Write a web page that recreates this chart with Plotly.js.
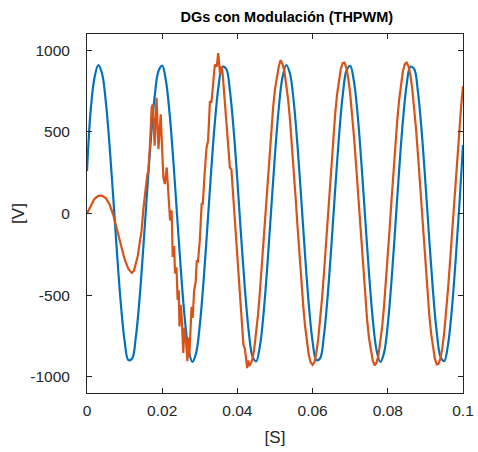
<!DOCTYPE html>
<html>
<head>
<meta charset="utf-8">
<script src="https://cdn.plot.ly/plotly-3.0.1.min.js"></script>
<style>html,body{margin:0;padding:0;background:#fff;}#chart{width:478px;height:452px;}</style>
</head>
<body>
<div id="chart"></div>
<script>
// Series 1 (blue) — time [s] and voltage [V]
const tBlue = [0,0.001,0.002,0.003,0.004,0.005,0.006,0.007,0.008,0.009,
0.010,0.011,0.012,0.013,0.014,0.015,0.016,0.017,0.018,0.019,
0.020,0.021,0.022,0.023,0.024,0.025,0.026,0.027,0.028,0.029,
0.030,0.031,0.032,0.033,0.034,0.035,0.036,0.037,0.038,0.039,
0.040,0.041,0.042,0.043,0.044,0.045,0.046,0.047,0.048,0.049,
0.050,0.051,0.052,0.053,0.054,0.055,0.056,0.057,0.058,0.059,
0.060,0.061,0.062,0.063,0.064,0.065,0.066,0.067,0.068,0.069,
0.070,0.071,0.072,0.073,0.074,0.075,0.076,0.077,0.078,0.079,
0.080,0.081,0.082,0.083,0.084,0.085,0.086,0.087,0.088,0.089,
0.090,0.091,0.092,0.093,0.094,0.095,0.096,0.097,0.098,0.099,0.100];
const vBlue = [260,639,833,909,858,686,418,91,-249,-554,
-781,-898,-889,-755,-515,-202,139,460,717,873,
906,812,604,311,-26,-359,-642,-834,-909,-857,
-684,-414,-87,253,557,783,899,888,753,512,
199,-143,-464,-719,-874,-906,-810,-601,-307,30,
363,645,836,910,855,681,411,83,-257,-560,
-785,-899,-887,-750,-508,-195,146,467,722,875,
905,809,599,303,-34,-366,-647,-837,-910,-854,
-679,-408,-79,260,563,787,900,886,749,505,
191,-150,-470,-724,-876,-905,-807,-595,-300,38,420];

// Series 2 (orange) — time [s] and voltage [V]
const tOrange = [0,0.001,0.002,0.003,0.004,0.005,0.006,0.007,0.008,0.009,
0.010,0.011,0.0119,0.0125,0.013,0.0135,0.014,0.0145,0.015,0.0155,
0.016,0.0163,0.0167,0.0172,0.0175,0.018,0.0185,0.019,0.0196,0.0203,
0.0207,0.0212,0.0218,0.0221,0.0225,0.0228,0.0232,0.0234,0.0238,0.0241,
0.0244,0.0246,0.0249,0.0252,0.0256,0.0259,0.0263,0.0267,0.0270,0.0272,
0.0274,0.0278,0.0281,0.0285,0.0289,0.0292,0.0295,0.0300,0.0305,0.0308,
0.0313,0.0318,0.0322,0.0327,0.0331,0.0340,0.0345,0.0349,0.0354,0.0358,
0.0361,0.0372,0.0380,0.0384,0.0394,0.0398,0.0407,0.0416,0.0420,0.0426,
0.0429,0.0432,0.0438,
0.0440,0.0445,0.0450,0.0455,0.0460,0.0465,0.0470,0.0475,0.0480,0.0485,
0.0490,0.0495,0.0500,0.0505,0.0510,0.0515,0.0520,0.0525,0.0530,0.0535,
0.0540,0.0545,0.0550,0.0555,0.0560,0.0565,0.0570,0.0575,0.0580,0.0585,
0.0590,0.0595,0.0600,0.0605,0.0610,0.0615,0.0620,0.0625,0.0630,0.0635,
0.0640,0.0645,0.0650,0.0655,0.0660,0.0665,0.0670,0.0675,0.0680,0.0685,
0.0690,0.0695,0.0700,0.0705,0.0710,0.0715,0.0720,0.0725,0.0730,0.0735,
0.0740,0.0745,0.0750,0.0755,0.0760,0.0765,0.0770,0.0775,0.0780,0.0785,
0.0790,0.0795,0.0800,0.0805,0.0810,0.0815,0.0820,0.0825,0.0830,0.0835,
0.0840,0.0845,0.0850,0.0855,0.0860,0.0865,0.0870,0.0875,0.0880,0.0885,
0.0890,0.0895,0.0900,0.0905,0.0910,0.0915,0.0920,0.0925,0.0930,0.0935,
0.0940,0.0945,0.0950,0.0955,0.0960,0.0965,0.0970,0.0975,0.0980,0.0985,
0.0990,0.0995,0.1000];
const vOrange = [0,50,90,108,110,95,55,-10,-95,-190,
-280,-340,-364,-350,-310,-260,-180,-110,30,150,
230,262,400,648,669,415,709,394,608,221,
180,282,60,-43,20,-266,-200,-368,-330,-530,
-470,-693,-560,-640,-855,-700,-780,-905,-760,-880,
-780,-571,-640,-470,-420,-287,-300,-165,59,60,
250,404,445,689,680,913,900,983,852,900,
850,506,282,270,-83,-225,-530,-805,-830,-947,
-900,-935,-907,
-890,-827,-735,-617,-476,-320,-151,23,196,362,
515,650,762,847,901,940,915,872,799,697,
571,425,263,92,-82,-253,-415,-563,-691,-794,
-869,-913,-928,-910,-851,-767,-657,-523,-371,-206,
-33,141,310,468,609,729,823,887,921,925,
889,826,733,614,473,316,147,-26,-199,-365,
-518,-652,-764,-848,-902,-930,-914,-871,-797,-695,
-568,-421,-259,-88,86,257,419,566,693,796,
870,914,925,903,849,765,654,520,367,202,
29,-145,-313,-471,-612,-731,-824,-888,-925,-921,
-888,-824,-730,-611,-470,-312,-143,30,203,369,
521,655,780];

// Axis ticks
const xTickVals = [0,0.02,0.04,0.06,0.08,0.1];
const xTickLabels = ["0","0.02","0.04","0.06","0.08","0.1"];
const yTickVals = [-1000,-500,0,500,1000];
const yTickLabels = ["-1000","-500","0","500","1000"];

const FONT = "Liberation Sans, Arial, Helvetica, sans-serif";
const AX = "#262626";

const traces = [
  {x: tBlue, y: vBlue, type: "scatter", mode: "lines",
   line: {color: "#0072BD", width: 2.2, shape: "spline", smoothing: 1}, hoverinfo: "skip"},
  {x: tOrange, y: vOrange, type: "scatter", mode: "lines",
   line: {color: "#D95319", width: 2.2}, hoverinfo: "skip"}
];

const axisCommon = {
  showgrid: false, zeroline: false, showline: true, linecolor: AX, linewidth: 1,
  mirror: "allticks", ticks: "inside", ticklen: 5, tickcolor: AX, tickwidth: 1,
  tickfont: {family: FONT, size: 15.5, color: AX}, automargin: false
};

const layout = {
  width: 478, height: 452,
  margin: {l: 87, r: 15, t: 34, b: 59},
  paper_bgcolor: "#ffffff", plot_bgcolor: "#ffffff",
  showlegend: false,
  title: {text: "<b>DGs con Modulación (THPWM)</b>", font: {family: FONT, size: 14.5, color: "#000"},
          x: 0.60, xref: "container", xanchor: "center", y: 0.962, yref: "container", yanchor: "middle"},
  xaxis: Object.assign({}, axisCommon, {range: [0, 0.1], tickvals: xTickVals, ticktext: xTickLabels,
    ticklabelstandoff: 3,
    title: {text: "[S]", font: {family: FONT, size: 17, color: AX}, standoff: 13}}),
  yaxis: Object.assign({}, axisCommon, {range: [-1100, 1100], tickvals: yTickVals, ticktext: yTickLabels,
    ticklabelstandoff: 13,
    title: {text: "[V]", font: {family: FONT, size: 17, color: AX}, standoff: 1}})
};

Plotly.newPlot("chart", traces, layout, {displayModeBar: false, staticPlot: true});
</script>
</body>
</html>
